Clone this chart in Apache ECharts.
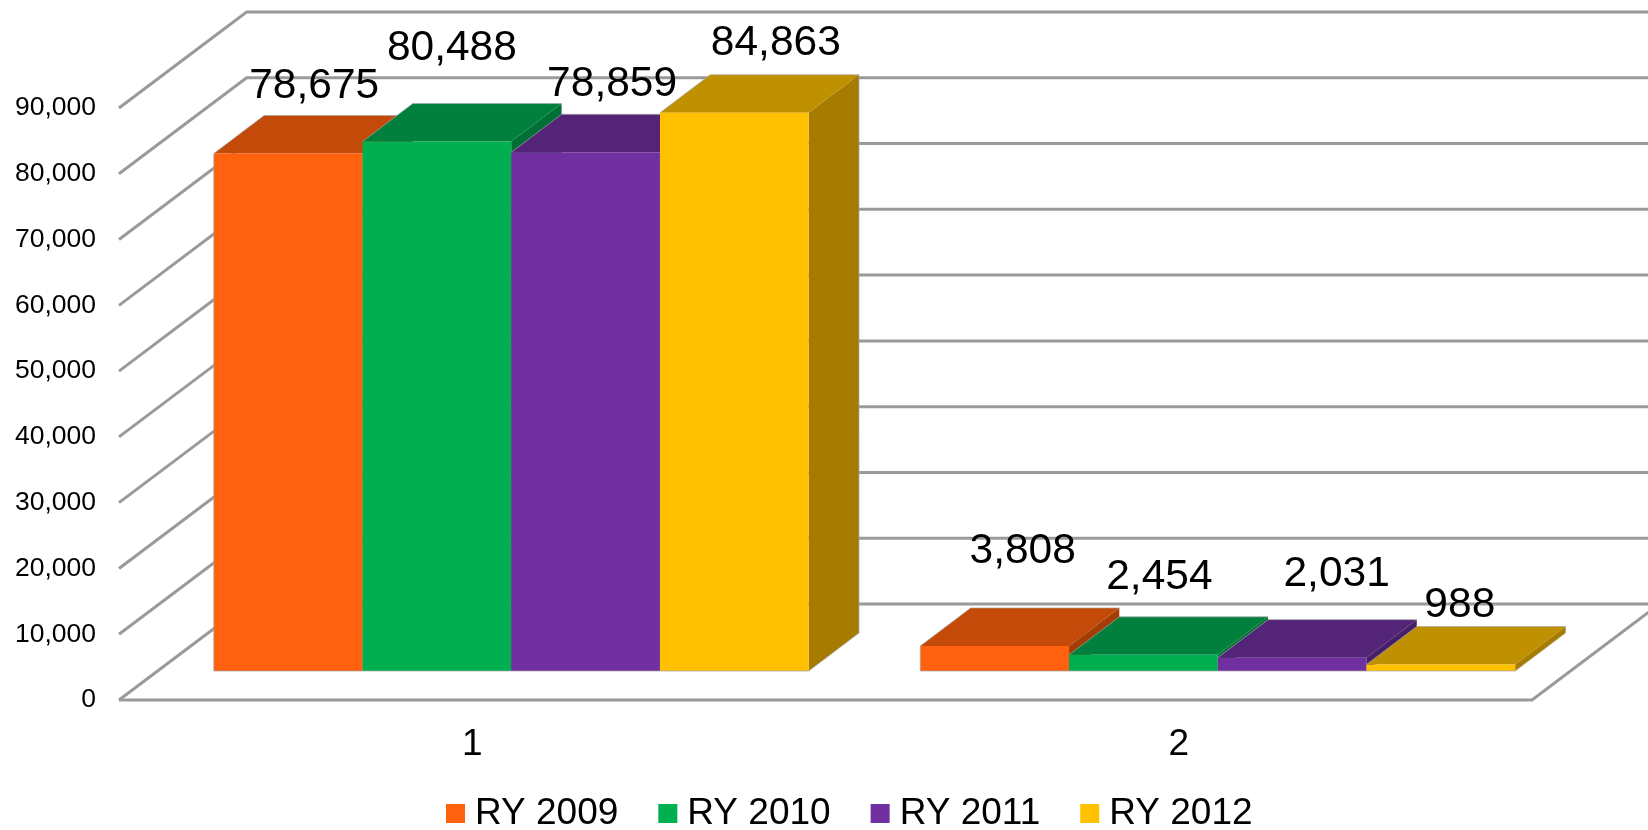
<!DOCTYPE html>
<html>
<head>
<meta charset="utf-8">
<style>html,body{margin:0;padding:0;background:#fff}#chart{width:1648px;height:830px}</style>
<script src="https://cdn.jsdelivr.net/npm/echarts@6/dist/echarts.min.js"></script>
</head>
<body>
<div id="chart"></div>
<script>
const categories = ['1', '2'];
const seriesNames = ['RY 2009', 'RY 2010', 'RY 2011', 'RY 2012'];
const ry2009 = [78675, 3808];
const ry2010 = [80488, 2454];
const ry2011 = [78859, 2031];
const ry2012 = [84863, 988];
const yTicks = [0, 10000, 20000, 30000, 40000, 50000, 60000, 70000, 80000, 90000];

const seriesValues = [ry2009, ry2010, ry2011, ry2012];
const faceColors = [
  { front: '#FF610F', top: '#C34A08', side: '#A33D05' },
  { front: '#00B050', top: '#00803C', side: '#006F35' },
  { front: '#7030A0', top: '#542478', side: '#462066' },
  { front: '#FFC000', top: '#BF9000', side: '#A67C00' }
];
// Layout of the pseudo-3D projection, in pixels
const WALL_DX = 127.6, WALL_DY = 96;
const FLOOR_DX = 39, FLOOR_DY = 29;
const BAR_DX = 50.3, BAR_DY = 38;
const BAR_RATIO = 0.2105;
const LABEL_OFFSET = [
  [[26, -67], [28, -95]],
  [[15, -93], [16, -78]],
  [[26.5, -68], [44.5, -83]],
  [[41.5, -70], [19, -59]]
];
const EDGE = 'rgba(165,165,165,0.7)';
const GRID_COLOR = '#9a9a9a';

function fmt(v) { return Number(v).toLocaleString('en-US'); }

function edge(points) {
  return { type: 'polyline', shape: { points: points }, style: { stroke: EDGE, lineWidth: 1, fill: null } };
}

function renderWall(params, api) {
  const cs = params.coordSys;
  const v = api.value(1);
  const y = api.coord([0, v])[1];
  const x0 = cs.x, x1 = cs.x + cs.width;
  const children = [{
    type: 'polyline',
    shape: { points: [[x0, y], [x0 + WALL_DX, y - WALL_DY], [x1 + WALL_DX, y - WALL_DY]] },
    style: { stroke: GRID_COLOR, lineWidth: 3, fill: null }
  }];
  if (v === 0) {
    children.push({
      type: 'polyline',
      shape: { points: [[x0, y], [x1, y], [x1 + WALL_DX, y - WALL_DY]] },
      style: { stroke: GRID_COLOR, lineWidth: 3, fill: null }
    });
  }
  return { type: 'group', children: children };
}

function makeBarRenderer(si) {
  return function (params, api) {
    const c = api.value(0);
    const val = api.value(1);
    const top = api.coord([c, val]);
    const base = api.coord([c, 0]);
    const band = api.size([1, 0])[0];
    const w = band * BAR_RATIO;
    const xl = top[0] + FLOOR_DX + (si - 2) * w;
    const xr = xl + w;
    const yt = top[1] - FLOOR_DY;
    const yb = base[1] - FLOOR_DY;
    const col = faceColors[si];
    const off = LABEL_OFFSET[si][c];
    const children = [
      {
        type: 'polygon',
        shape: { points: [[xr, yt], [xr + BAR_DX, yt - BAR_DY], [xr + BAR_DX, yb - BAR_DY], [xr, yb]] },
        style: { fill: col.side }
      },
      {
        type: 'polygon',
        shape: { points: [[xl, yt], [xl + BAR_DX, yt - BAR_DY], [xr + BAR_DX, yt - BAR_DY], [xr, yt]] },
        style: { fill: col.top }
      },
      {
        type: 'rect',
        shape: { x: xl, y: yt, width: w, height: yb - yt },
        style: { fill: col.front }
      },
      edge([[xl, yb], [xr, yb]]),
      edge([[xl, yt], [xl + BAR_DX, yt - BAR_DY], [xr + BAR_DX, yt - BAR_DY]])
    ];
    if (si === 0) children.push(edge([[xl, yt], [xl, yb]]));
    if (si === 3) children.push(edge([[xr + BAR_DX, yt - BAR_DY], [xr + BAR_DX, yb - BAR_DY], [xr, yb]]));
    children.push({
      type: 'text',
      z2: 100,
      style: {
        x: xl + w / 2 + off[0],
        y: yt + off[1],
        text: fmt(val),
        fill: '#000',
        font: '42.5px "Liberation Sans", Arial, sans-serif',
        align: 'center',
        verticalAlign: 'middle'
      }
    });
    return { type: 'group', children: children };
  };
}

const chart = echarts.init(document.getElementById('chart'), null, { renderer: 'canvas' });
chart.setOption({
  animation: false,
  backgroundColor: '#fff',
  color: faceColors.map(f => f.front),
  textStyle: { fontFamily: '"Liberation Sans", Arial, sans-serif' },
  grid: { left: 119, top: 108, width: 1413, height: 592, containLabel: false },
  xAxis: {
    type: 'category',
    data: categories,
    axisLine: { show: false },
    axisTick: { show: false },
    splitLine: { show: false },
    axisLabel: { color: '#000', fontSize: 37, margin: 26 }
  },
  yAxis: {
    type: 'value',
    min: 0,
    max: 90000,
    interval: 10000,
    axisLine: { show: false },
    axisTick: { show: false },
    splitLine: { show: false },
    axisLabel: { color: '#000', fontSize: 26.5, margin: 23, padding: [2, 0, 0, 0], formatter: fmt }
  },
  legend: {
    data: seriesNames,
    left: 446,
    top: 795,
    padding: 0,
    icon: 'rect',
    itemWidth: 19,
    itemHeight: 19,
    itemGap: 40,
    selectedMode: false,
    textStyle: { color: '#000', fontSize: 37, width: 143, padding: [0, 0, 0, 5] }
  },
  tooltip: { show: false },
  series: [
    {
      type: 'custom',
      name: 'walls',
      silent: true,
      z: 1,
      encode: { x: 0, y: 1 },
      data: yTicks.map(v => [0, v]),
      renderItem: renderWall
    }
  ].concat(seriesNames.map((name, si) => ({
    type: 'custom',
    name: name,
    z: 2 + si,
    silent: true,
    itemStyle: { color: faceColors[si].front },
    encode: { x: 0, y: 1 },
    data: seriesValues[si].map((v, c) => [c, v]),
    renderItem: makeBarRenderer(si)
  })))
});
</script>
</body>
</html>
